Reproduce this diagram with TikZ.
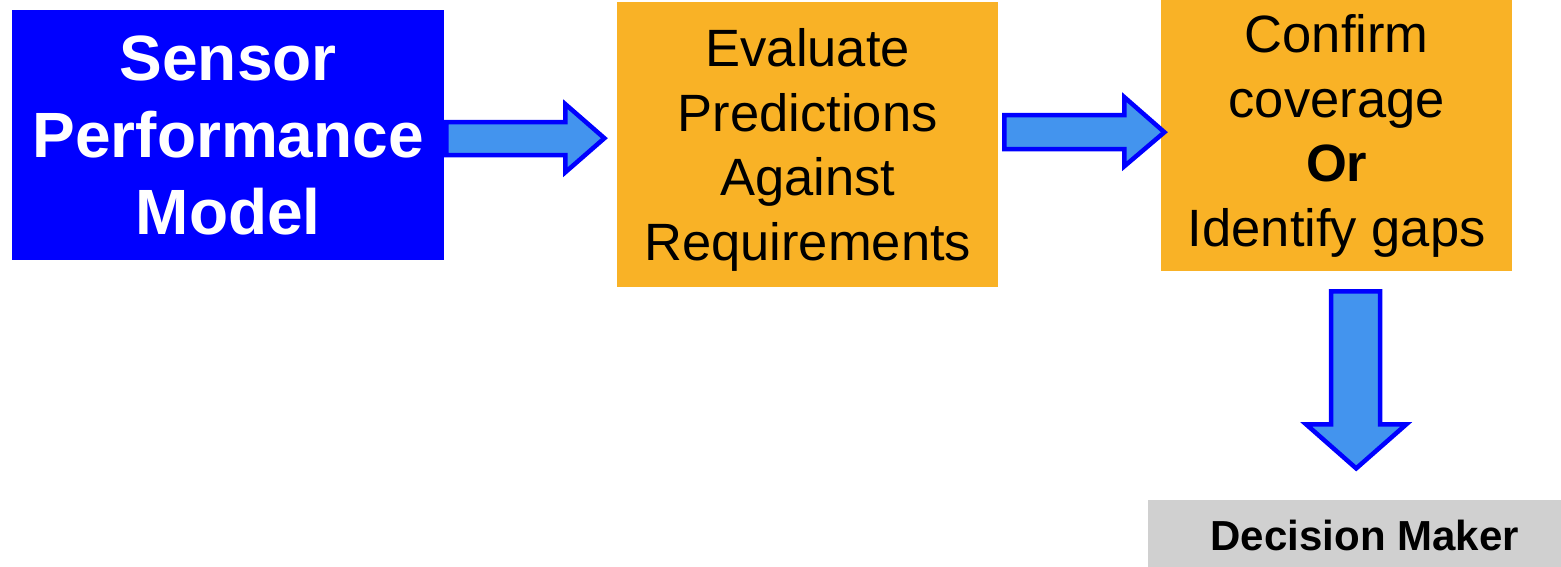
\documentclass[tikz,border=0pt]{standalone}
\usepackage{fontspec}
\setmainfont{Liberation Sans}
\usetikzlibrary{calc}
\definecolor{boxblue}{HTML}{0000FF}
\definecolor{boxorange}{HTML}{F9B226}
\definecolor{arrowfill}{HTML}{4394EE}
\definecolor{boxgrey}{HTML}{D0D0D0}
\tikzset{
  box/.style={draw=none, inner sep=0pt, align=center, anchor=north west},
  bluebox/.style={box, fill=boxblue, text=white, font=\fontsize{64}{77}\selectfont\bfseries},
  orangebox/.style={box, fill=boxorange, text=black, font=\fontsize{52.5}{64.5}\selectfont},
  greybox/.style={box, fill=boxgrey, text=black, font=\fontsize{42}{50}\selectfont\bfseries},
  blockarrow/.style={draw=boxblue, fill=arrowfill, line width=4.5pt, line join=miter}
}
\begin{document}
\begin{tikzpicture}[x=1pt,y=1pt]
\useasboundingbox (0,0) rectangle (1561,-567);
\node[bluebox, minimum width=432pt, minimum height=250pt] (spm) at (12,-10)
  {Sensor\\Performance\\Model};
\node[orangebox, minimum width=381pt, minimum height=285pt] (eval) at (617,-2)
  {\rule{0pt}{48pt}Evaluate\\Predictions\\Against\\Requirements};
\node[orangebox, minimum width=351pt, minimum height=271pt] (conf) at (1161,0)
  {Confirm\\coverage\\\textbf{Or}\\Identify gaps};
\node[greybox, minimum width=413pt, minimum height=67pt] (dm) at (1148,-500)
  {\rule{0pt}{34pt}\hspace*{20pt}Decision Maker};
% block arrows
\draw[blockarrow] ($(spm.east)+(2,13)$) -- ++(119,0) -- ++(0,18) -- ++(39,-34)
  -- ++(-39,-34) -- ++(0,17) -- ++(-119,0) -- cycle;
\draw[blockarrow] ($(eval.east)+(6,29.5)$) -- ++(120,0) -- ++(0,18) -- ++(40,-35)
  -- ++(-40,-34) -- ++(0,17) -- ++(-120,0) -- cycle;
\draw[blockarrow] ($(conf.south)+(-5.5,-20)$) -- ++(49,0) -- ++(0,-133) -- ++(26,0)
  -- ++(-50,-44) -- ++(-50,44) -- ++(25,0) -- cycle;
\end{tikzpicture}
\end{document}
